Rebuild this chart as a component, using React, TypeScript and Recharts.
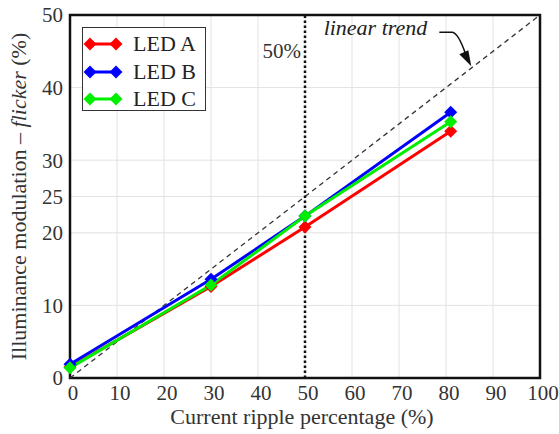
import React from 'react';
import { LineChart, Line, XAxis, YAxis, CartesianGrid, ReferenceLine, ReferenceDot, ReferenceArea } from 'recharts';

// ripple (%) at which each LED was measured
const ripple = [0, 30, 50, 81];
const ledA = [1.5, 12.6, 20.8, 34.0];
const ledB = [1.9, 13.6, 22.3, 36.6];
const ledC = [1.4, 12.8, 22.3, 35.3];

const xTicks = [0, 10, 20, 30, 40, 50, 60, 70, 80, 90, 100];
const yTicks = [0, 10, 20, 25, 30, 40, 50];

const trendStart = { x: 0, y: 0 };
const trendEnd = { x: 100, y: 50 };
const trendArrowAt = { x: 85.6, y: 42.8 };

const series = [
  { key: 'a', name: 'LED A', color: '#ff0000' },
  { key: 'b', name: 'LED B', color: '#0000ff' },
  { key: 'c', name: 'LED C', color: '#00ee00' },
];

const data = ripple.map((r, i) => ({ ripple: r, a: ledA[i], b: ledB[i], c: ledC[i] }));

const FONT = 'Liberation Serif';

const Diamond = (props: any) => {
  const { cx, cy, fill } = props;
  if (cx == null || cy == null) return null;
  const s = 6.5;
  return <polygon points={`${cx},${cy - s} ${cx + s},${cy} ${cx},${cy + s} ${cx - s},${cy}`} fill={fill} />;
};

const TrendNote = (props: any) => {
  const { cx, cy } = props;
  if (cx == null) return null;
  return (
    <g>
      <text x={cx - 45} y={cy - 32} textAnchor="end" fontFamily={FONT} fontStyle="italic" fontSize={22} fill="#222">
        linear trend
      </text>
      <path d={`M ${cx - 33} ${cy - 35} L ${cx - 20} ${cy - 35} Q ${cx - 14} ${cy - 34} ${cx - 7} ${cy - 14}`} stroke="#111" strokeWidth={1.5} fill="none" />
      <polygon points={`${cx - 1},${cy - 1} ${cx - 13},${cy - 13} ${cx - 4},${cy - 17}`} fill="#111" />
    </g>
  );
};

const Legend = () => (
  <div
    style={{
      position: 'absolute',
      left: 82,
      top: 27,
      width: 122,
      height: 82,
      border: '1.5px solid #333',
      background: '#fff',
      fontFamily: FONT,
      fontSize: 22,
    }}
  >
    {series.map((s, i) => (
      <div key={s.key} style={{ position: 'absolute', left: 0, top: 3 + i * 27.5, height: 26, display: 'flex', alignItems: 'center' }}>
        <svg width={40} height={20}>
          <line x1={6} y1={10} x2={34} y2={10} stroke={s.color} strokeWidth={3} />
          <Diamond cx={7} cy={10} fill={s.color} />
          <Diamond cx={33} cy={10} fill={s.color} />
        </svg>
        <span style={{ marginLeft: 10, color: '#222', lineHeight: '26px' }}>{s.name}</span>
      </div>
    ))}
  </div>
);

export default function App() {
  return (
    <div style={{ position: 'absolute', left: 0, top: 0, width: 559, height: 434, background: '#fff', fontFamily: FONT }}>
      <LineChart width={559} height={434} data={data} margin={{ top: 15, right: 19, left: 0, bottom: 0 }}>
        <CartesianGrid stroke="#e2e2e2" strokeWidth={1} verticalValues={xTicks} horizontalValues={yTicks} />
        <XAxis
          dataKey="ripple"
          type="number"
          domain={[0, 100]}
          ticks={xTicks}
          height={56}
          axisLine={false}
          tickLine={false}
          tickMargin={1}
          tick={{ fontFamily: FONT, fontSize: 21, fill: '#333', dx: 3 }}
          label={{
            content: (p: any) => (
              <text x={p.viewBox.x + p.viewBox.width / 2 - 3} y={p.viewBox.y + 46} textAnchor="middle" fontFamily={FONT} fontSize={22} fill="#333">
                Current ripple percentage (%)
              </text>
            ),
          }}
        />
        <YAxis
          type="number"
          domain={[0, 50]}
          ticks={yTicks}
          width={70}
          axisLine={false}
          tickLine={false}
          tickMargin={1}
          tick={{ fontFamily: FONT, fontSize: 21, fill: '#333' }}
          label={{
            content: (p: any) => {
              const cx = 18;
              const cy = p.viewBox.y + p.viewBox.height / 2;
              return (
                <text x={cx} y={cy} transform={`rotate(-90 ${cx} ${cy})`} textAnchor="middle" dominantBaseline="central" fontFamily={FONT} fontSize={22} fill="#333">
                  Illuminance modulation – <tspan fontStyle="italic">flicker</tspan> (%)
                </text>
              );
            },
          }}
        />
        <ReferenceArea x1={0} x2={100} y1={0} y2={50} fill="none" stroke="#111" strokeWidth={2.5} />
        <ReferenceLine segment={[trendStart, trendEnd]} stroke="#333" strokeWidth={1.3} strokeDasharray="5 4" />
        <ReferenceLine
          x={50}
          stroke="#111"
          strokeWidth={2.5}
          strokeDasharray="2.5 2.5"
          label={{
            content: (p: any) => (
              <text x={p.viewBox.x - 4} y={p.viewBox.y + 43} textAnchor="end" fontFamily={FONT} fontSize={21} fill="#333">
                50%
              </text>
            ),
          }}
        />
        <ReferenceDot x={trendArrowAt.x} y={trendArrowAt.y} r={0} shape={TrendNote} />
        {series.map((s) => (
          <Line
            key={s.key}
            dataKey={s.key}
            name={s.name}
            stroke={s.color}
            strokeWidth={3}
            dot={(p: any) => <Diamond key={`${s.key}-${p.index}`} cx={p.cx} cy={p.cy} fill={s.color} />}
            activeDot={false}
            isAnimationActive={false}
          />
        ))}
      </LineChart>
      <Legend />
    </div>
  );
}
